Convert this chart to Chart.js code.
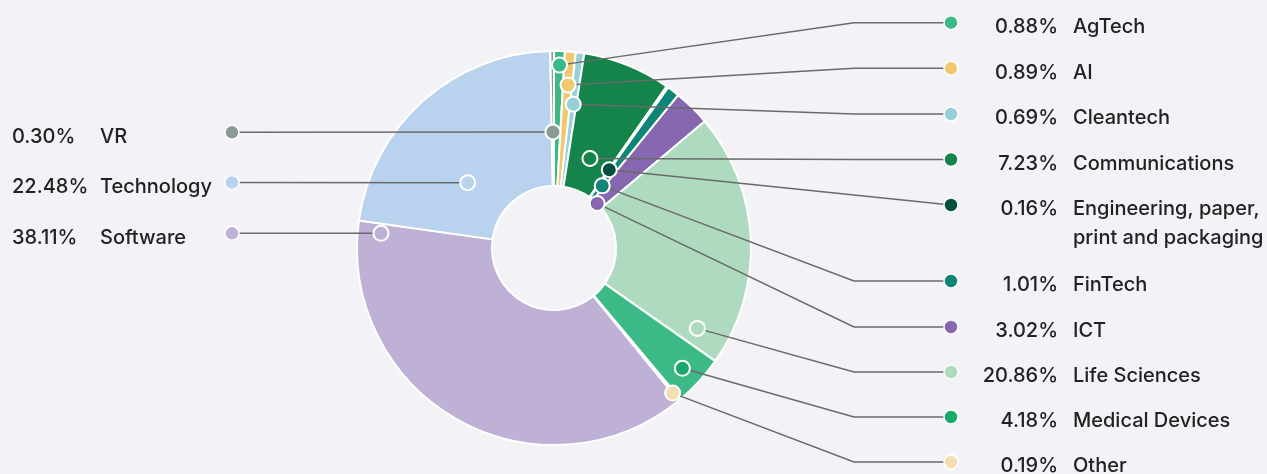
<!DOCTYPE html>
<html>
<head>
<meta charset="utf-8">
<script src="https://cdn.jsdelivr.net/npm/chart.js@4.4.1/dist/chart.umd.min.js"></script>
<style>
  html, body { margin: 0; padding: 0; background: #f2f2f7; }
  #wrap { width: 1267px; height: 474px; position: relative; }
  canvas { display: block; }
</style>
</head>
<body>
<div id="wrap"><canvas id="c" width="1267" height="474"></canvas></div>
<script>
// ---- data ----
const categories = ['AgTech', 'AI', 'Cleantech', 'Communications', 'Engineering, paper, print and packaging',
  'FinTech', 'ICT', 'Life Sciences', 'Medical Devices', 'Other', 'Software', 'Technology', 'VR'];
const shares = [0.88, 0.89, 0.69, 7.23, 0.16, 1.01, 3.02, 20.86, 4.18, 0.19, 38.11, 22.48, 0.30];

// ---- styles ----
const sliceColors = ['#3bba88', '#efc870', '#98d0d8', '#14844a', '#03503f', '#0e8576', '#8767b0',
  '#aedbc0', '#3bba88', '#f4dfb2', '#bfb0d6', '#b9d2ed', '#8a9b95'];
const dotColors = ['#3bba88', '#efc870', '#98d0d8', '#14844a', '#03503f', '#0e8576', '#8767b0',
  '#aedbc0', '#1aa86c', '#f4dfb2', '#bfb0d6', '#b9d2ed', '#8a9b95'];

// ---- label layout (annotation placement) ----
const labelSide = ['r','r','r','r','r','r','r','r','r','r','l','l','l'];
const labelRowY = [22.7, 68.3, 114, 159.5, 205, 281, 327, 372, 417, 462, 233.3, 182.5, 132.3];
const useElbow = [true, true, true, true, false, true, true, true, true, true, false, false, false];
const markerAngleFrac = [0.55, 0.55, 0.5, 0.5, 0.6, 0.65, 0.46, 0.923, 0.537, 0.9, 0.977, 0.36, 0.5];
const markerRadFrac = [0.896, 0.753, 0.615, 0.255, 0.25, 0.123, 0.0, 0.758, 0.844, 0.929, 0.827, 0.342, 0.4];

const FONT = '500 20px Inter, "DejaVu Sans", sans-serif';
const TEXT_COLOR = '#222222';
const LINE_COLOR = '#6a6a6a';

const leaderPlugin = {
  id: 'leaders',
  afterDatasetsDraw(chart) {
    const ctx = chart.ctx;
    const meta = chart.getDatasetMeta(0);
    const pts = meta.data.map((arc, i) => {
      const p = arc.getProps(['x','y','startAngle','endAngle','innerRadius','outerRadius'], true);
      const a = p.startAngle + (p.endAngle - p.startAngle) * markerAngleFrac[i];
      const r = p.innerRadius + (p.outerRadius - p.innerRadius) * markerRadFrac[i];
      return { x: p.x + r * Math.cos(a), y: p.y + r * Math.sin(a) };
    });
    const rightDotX = 951, leftDotX = 232, elbowX = 854;
    ctx.save();
    ctx.strokeStyle = LINE_COLOR;
    ctx.lineWidth = 1.5;
    pts.forEach((m, i) => {
      const y = labelRowY[i];
      ctx.beginPath();
      ctx.moveTo(m.x, m.y);
      if (labelSide[i] === 'r') {
        if (useElbow[i]) ctx.lineTo(elbowX, y);
        ctx.lineTo(rightDotX, y);
      } else {
        ctx.lineTo(leftDotX, y);
      }
      ctx.stroke();
    });
    pts.forEach((m, i) => {
      ctx.beginPath();
      ctx.arc(m.x, m.y, 7.5, 0, Math.PI * 2);
      ctx.fillStyle = dotColors[i];
      ctx.fill();
      ctx.lineWidth = 2;
      ctx.strokeStyle = '#ffffff';
      ctx.stroke();
    });
    ctx.font = FONT;
    ctx.textBaseline = 'alphabetic';
    pts.forEach((m, i) => {
      const y = labelRowY[i];
      const dx = labelSide[i] === 'r' ? rightDotX : leftDotX;
      ctx.beginPath();
      ctx.arc(dx, y, 7, 0, Math.PI * 2);
      ctx.fillStyle = dotColors[i];
      ctx.fill();
      ctx.lineWidth = 1.5;
      ctx.strokeStyle = '#ffffff';
      ctx.stroke();
      ctx.fillStyle = TEXT_COLOR;
      const pct = shares[i].toFixed(2) + '%';
      const base = y + 10.4;
      if (labelSide[i] === 'r') {
        ctx.textAlign = 'right';
        ctx.fillText(pct, 1058, base);
        ctx.textAlign = 'left';
        const words = categories[i].split(' ');
        const lines = [];
        let cur = '';
        words.forEach(w => {
          const t = cur ? cur + ' ' + w : w;
          if (ctx.measureText(t).width > 194 && cur) { lines.push(cur); cur = w; } else cur = t;
        });
        lines.push(cur);
        lines.forEach((ln, k) => ctx.fillText(ln, 1073, base + k * 29));
      } else {
        ctx.textAlign = 'left';
        ctx.fillText(pct, 12, base);
        ctx.fillText(categories[i], 100, base);
      }
    });
    ctx.restore();
  }
};

new Chart(document.getElementById('c'), {
  type: 'doughnut',
  data: {
    labels: categories,
    datasets: [{
      data: shares,
      backgroundColor: sliceColors,
      borderColor: '#ffffff',
      borderWidth: 2,
      radius: 197,
      cutout: '31.5%'
    }]
  },
  options: {
    responsive: false,
    animation: false,
    devicePixelRatio: 1,
    layout: { padding: { left: 0, right: 159, top: 22, bottom: 0 } },
    plugins: { legend: { display: false }, tooltip: { enabled: false } }
  },
  plugins: [leaderPlugin]
});
</script>
</body>
</html>
